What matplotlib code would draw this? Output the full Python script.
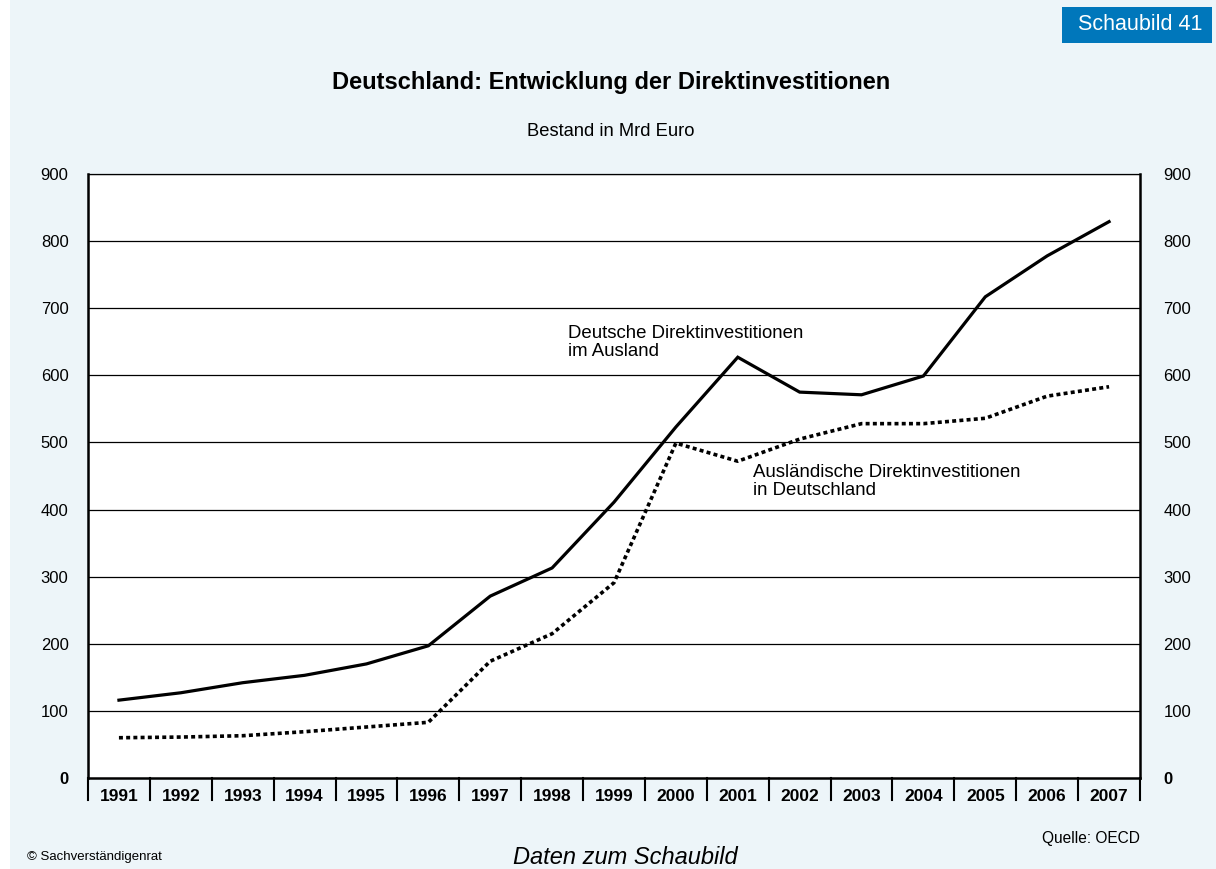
import matplotlib
matplotlib.use("Agg")
import matplotlib.pyplot as plt
from matplotlib.patches import Rectangle
import matplotlib.transforms as mtransforms

plt.rcParams['font.family'] = ['Liberation Sans', 'DejaVu Sans']

years = ["1991", "1992", "1993", "1994", "1995", "1996", "1997", "1998", "1999",
         "2000", "2001", "2002", "2003", "2004", "2005", "2006", "2007"]
deutsche_im_ausland = [116, 127, 142, 153, 170, 197, 271, 313, 411,
                       523, 627, 575, 571, 599, 717, 778, 829]
auslaendische_in_de = [60, 61, 63, 69, 76, 83, 174, 215, 291,
                       499, 472, 505, 528, 528, 536, 569, 583]
y_ticks = [0, 100, 200, 300, 400, 500, 600, 700, 800, 900]

W, H = 1216, 869
fig = plt.figure(figsize=(W / 100, H / 100), dpi=100, facecolor='white')
bg = '#EDF5F9'
fig.patches.append(Rectangle((10 / W, 0), 1 - 10 / W, 1, transform=fig.transFigure,
                             facecolor=bg, edgecolor='none', zorder=-10))

ax = fig.add_axes([88 / W, 1 - 778 / H, (1140 - 88) / W, (778 - 174) / H])
ax.set_facecolor('white')
x = list(range(len(years)))
ax.set_xlim(-0.5, len(years) - 0.5)
ax.set_ylim(0, 900)

for v in y_ticks[1:]:
    ax.axhline(v, color='black', lw=0.9, zorder=1)

ax.plot(x, deutsche_im_ausland, color='black', lw=2.3, solid_joinstyle='miter', zorder=3)
ax.plot(x, auslaendische_in_de, color='black', lw=2.6, linestyle=(0, (1.1, 0.9)),
        dash_capstyle='butt', zorder=3)

for s in ['left', 'right', 'bottom']:
    ax.spines[s].set_linewidth(1.8)
ax.spines['top'].set_linewidth(0.9)

ax.set_yticks(y_ticks)
ax.tick_params(axis='y', length=0, labelsize=12, left=False, right=False,
               labelleft=True, labelright=False, pad=14)
ax.set_yticklabels([str(v) for v in y_ticks])
for lab in ax.get_yticklabels():
    if lab.get_text() == '0':
        lab.set_fontweight('bold')
ax2 = ax.secondary_yaxis('right')
ax2.set_yticks(y_ticks)
ax2.tick_params(length=0, labelsize=12, pad=17)
ax2.spines['right'].set_visible(False)
for lab in ax2.get_yticklabels():
    if lab.get_text() == '0':
        lab.set_fontweight('bold')

ax.set_xticks(x)
ax.set_xticklabels(years, fontweight='bold', fontsize=12.5)
ax.tick_params(axis='x', length=0, pad=8)

trans = mtransforms.blended_transform_factory(ax.transData, ax.transAxes)
sep_len = 22 / (778 - 174)
for i in range(len(years) + 1):
    ax.plot([i - 0.5, i - 0.5], [0, -sep_len], color='black', lw=1.5,
            transform=trans, clip_on=False)

ax.text(7.26, 649, "Deutsche Direktinvestitionen\nim Ausland", fontsize=13.4,
        ha='left', va='center', linespacing=1.13)
ax.text(10.25, 442, "Ausländische Direktinvestitionen\nin Deutschland", fontsize=13.4,
        ha='left', va='center', linespacing=1.13)

fig.text(611 / W, 1 - 82 / H, "Deutschland: Entwicklung der Direktinvestitionen",
         fontsize=17, fontweight='bold', ha='center', va='center')
fig.text(611 / W, 1 - 131 / H, "Bestand in Mrd Euro", fontsize=13.2,
         ha='center', va='center')

fig.patches.append(Rectangle((1062 / W, 1 - 43 / H), 150 / W, 36 / H,
                             transform=fig.transFigure, facecolor='#0077BB',
                             edgecolor='none'))
fig.text(1140 / W, 1 - 25 / H, "Schaubild 41", fontsize=15.5, color='white',
         ha='center', va='center')

fig.text(1140 / W, 1 - 838 / H, "Quelle: OECD", fontsize=11.2, ha='right', va='center')
fig.text(27 / W, 1 - 857 / H, "© Sachverständigenrat", fontsize=9.5, ha='left', va='center')
fig.text(625 / W, 1 - 857 / H, "Daten zum Schaubild", fontsize=17, style='italic',
         ha='center', va='center')

fig.savefig("out.png", dpi=100, facecolor=fig.get_facecolor())
